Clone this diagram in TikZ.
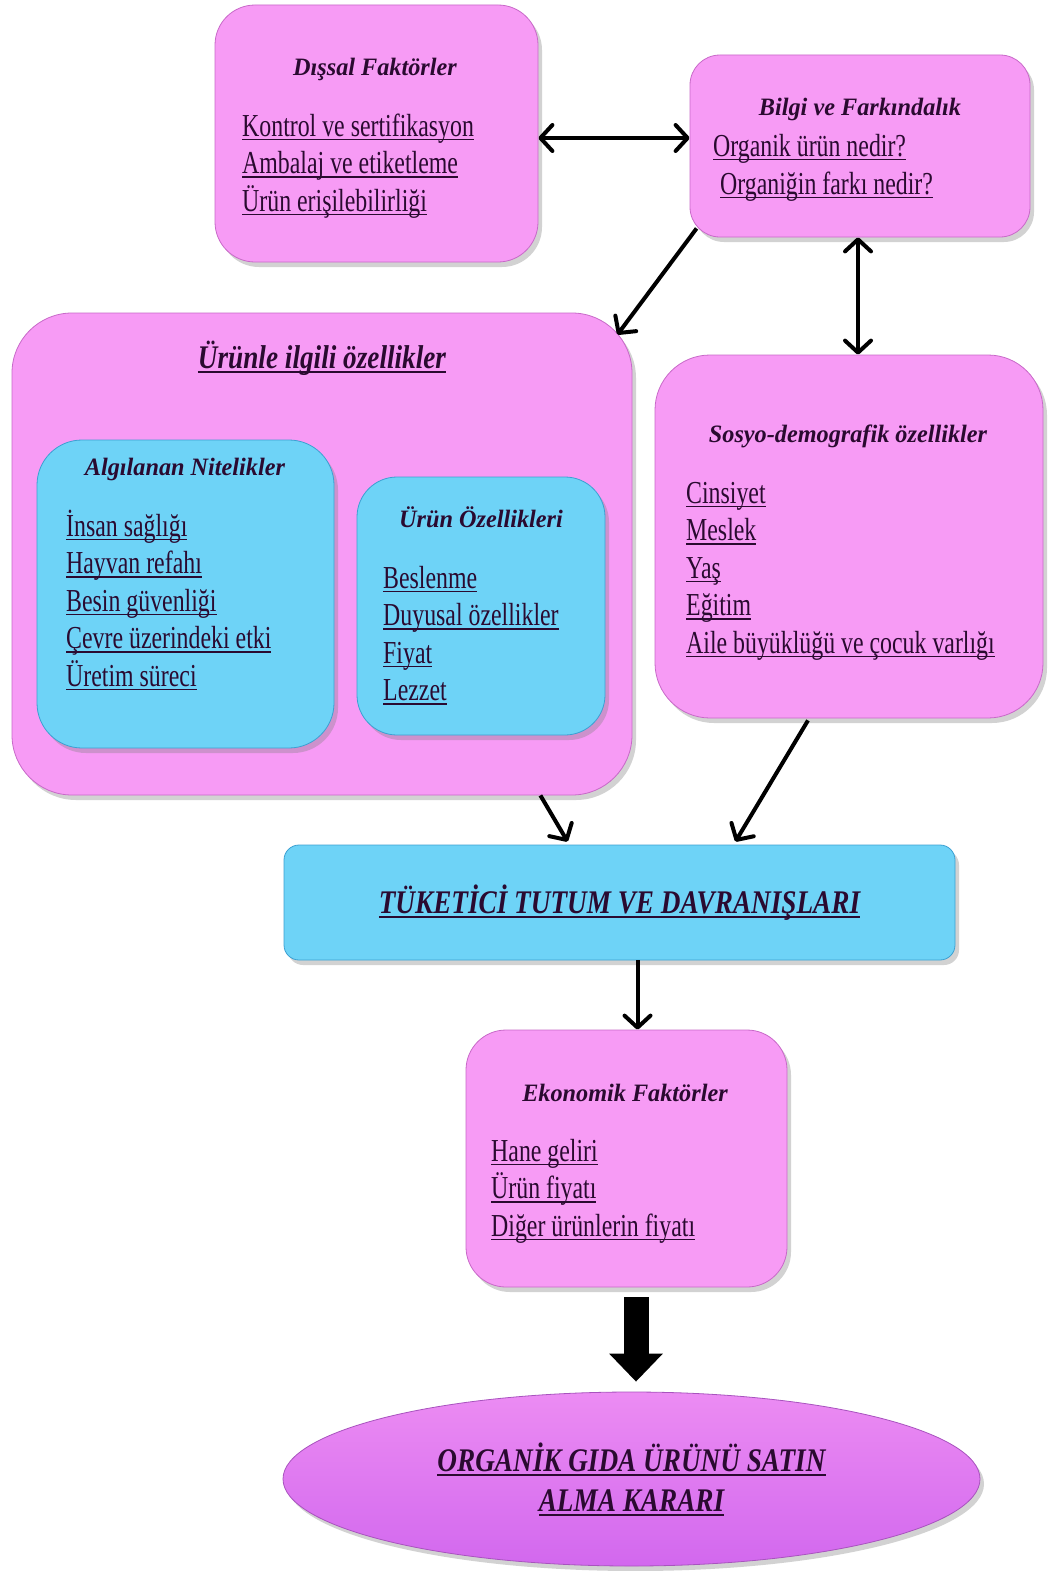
\documentclass[tikz,border=0pt]{standalone}
\usepackage{fontspec}
\setmainfont{Liberation Serif}
\newfontfamily\itemfont{Liberation Serif}[FakeStretch=0.745]
\newfontfamily\headfont{Liberation Serif}[FakeStretch=0.97]
\newfontfamily\bigfont{Liberation Serif}[FakeStretch=0.825]
\usetikzlibrary{arrows.meta,shapes.geometric,shadows}
\definecolor{pembe}{RGB}{247,155,245}
\definecolor{pembekenar}{RGB}{200,105,200}
\definecolor{mavi}{RGB}{110,211,247}
\definecolor{mavikenar}{RGB}{60,160,210}
\definecolor{mor}{RGB}{210,104,238}
\definecolor{yazi}{RGB}{42,10,48}
\newcommand{\alticizgi}[1]{\setbox0\hbox{#1}\rlap{\color{yazi}\rule[-0.14em]{\wd0}{0.05em}}\box0}
\begin{document}
\begin{tikzpicture}[x=1pt, y=-1pt,
  kutu/.style={draw=pembekenar, fill=pembe, line width=0.8pt, inner sep=0pt,
    drop shadow={shadow xshift=4pt, shadow yshift=-5pt, opacity=0.35}},
  mkutu/.style={kutu, draw=mavikenar, fill=mavi},
  baslik/.style={anchor=base, inner sep=0pt, text=yazi,
    font=\headfont\bfseries\itshape\fontsize{25}{30}\selectfont},
  buyuk/.style={inner sep=0pt, text=yazi, align=center,
    font=\bigfont\bfseries\itshape\fontsize{33}{40}\selectfont},
  madde/.style={anchor=base west, inner sep=0pt, text=yazi,
    font=\itemfont\fontsize{32}{38}\selectfont},
  ok/.style={line width=4pt, -{Straight Barb[length=12pt, width=26pt, round]}},
  ciftok/.style={line width=4pt, {Straight Barb[length=12pt, width=26pt, round]}-{Straight Barb[length=12pt, width=26pt, round]}},
  blokok/.style={line width=25pt, -{Triangle[length=28pt, width=52pt]}}]
\path[use as bounding box, fill=white] (0,0) rectangle (1052,1571);

\node[kutu, rounded corners=40pt, minimum width=323pt, minimum height=257pt] (dis) at (376.5,133.5) {};
\node[baslik] (disb) at (375,76) {Dışsal Faktörler};
\foreach \m [count=\i] in {Kontrol ve sertifikasyon, Ambalaj ve etiketleme, Ürün erişilebilirliği}
  \node[madde] (dis\i) at (242,{136+37.5*(\i-1)}) {\alticizgi{\m}};

\node[kutu, rounded corners=30pt, minimum width=340pt, minimum height=182pt] (bil) at (860,146) {};
\node[baslik] (bilb) at (860,115) {Bilgi ve Farkındalık};
\node[madde] (bil1) at (713,156) {\alticizgi{Organik ürün nedir?}};
\node[madde] (bil2) at (720,194) {\alticizgi{Organiğin farkı nedir?}};

\node[kutu, rounded corners=60pt, minimum width=620pt, minimum height=482pt] (urun) at (322,554) {};
\node[buyuk, anchor=base] (urunb) at (322,368) {\alticizgi{Ürünle ilgili özellikler}};

\node[mkutu, rounded corners=45pt, minimum width=297pt, minimum height=308pt] (alg) at (185.5,594) {};
\node[baslik] (algb) at (185,475) {Algılanan Nitelikler};
\foreach \m [count=\i] in {İnsan sağlığı, Hayvan refahı, Besin güvenliği, Çevre üzerindeki etki, Üretim süreci}
  \node[madde] (alg\i) at (66,{536+37.5*(\i-1)}) {\alticizgi{\m}};

\node[mkutu, rounded corners=40pt, minimum width=248pt, minimum height=258pt] (oz) at (481,606) {};
\node[baslik] (ozb) at (481,527) {Ürün Özellikleri};
\foreach \m [count=\i] in {Beslenme, Duyusal özellikler, Fiyat, Lezzet}
  \node[madde] (oz\i) at (383,{588+37.5*(\i-1)}) {\alticizgi{\m}};

\node[kutu, rounded corners=55pt, minimum width=388pt, minimum height=363pt] (sos) at (849,536.5) {};
\node[baslik] (sosb) at (848,442) {Sosyo-demografik özellikler};
\foreach \m [count=\i] in {Cinsiyet, Meslek, Yaş, Eğitim, Aile büyüklüğü ve çocuk varlığı}
  \node[madde] (sos\i) at (686,{503+37.5*(\i-1)}) {\alticizgi{\m}};

\node[mkutu, rounded corners=15pt, minimum width=671pt, minimum height=115pt, buyuk] (tuk) at (619.5,902.5) {\alticizgi{TÜKETİCİ TUTUM VE DAVRANIŞLARI}};

\node[kutu, rounded corners=40pt, minimum width=321pt, minimum height=257pt] (eko) at (626.5,1158.5) {};
\node[baslik] (ekob) at (625,1101) {Ekonomik Faktörler};
\foreach \m [count=\i] in {Hane geliri, Ürün fiyatı, Diğer ürünlerin fiyatı}
  \node[madde] (eko\i) at (491,{1161+37.5*(\i-1)}) {\alticizgi{\m}};

\node[ellipse, draw=mor!80!black, line width=0.8pt, top color=pembe!70!mor, bottom color=mor,
  minimum width=697pt, minimum height=174pt, buyuk,
  drop shadow={shadow xshift=4pt, shadow yshift=-5pt, opacity=0.35}] (karar) at (631.5,1479)
  {\alticizgi{ORGANİK GIDA ÜRÜNÜ SATIN}\\\alticizgi{ALMA KARARI}};

\draw[ciftok] ([yshift=-4.5pt]dis.east) -- ([yshift=-4.5pt]dis.east -| bil.west);
\draw[ok] ([xshift=7pt,yshift=9pt]bil.south west) -- ([xshift=-15pt,yshift=-22pt]urun.north east);
\draw[ciftok] ([xshift=-2pt]bil.south) -- ([xshift=-2pt]bil.south |- sos.north);
\draw[ok] ([xshift=-92pt]urun.south east) -- ([xshift=284pt,yshift=3pt]tuk.north west);
\draw[ok] ([xshift=-41pt,yshift=-2pt]sos.south) -- ([xshift=-220pt,yshift=3pt]tuk.north east);
\draw[ok] ([xshift=18pt]tuk.south) -- ([xshift=18pt]tuk.south |- eko.north);
\draw[blokok] ([xshift=4.5pt,yshift=-10pt]karar.north |- eko.south) -- ([xshift=4.5pt,yshift=10pt]karar.north);
\end{tikzpicture}
\end{document}
